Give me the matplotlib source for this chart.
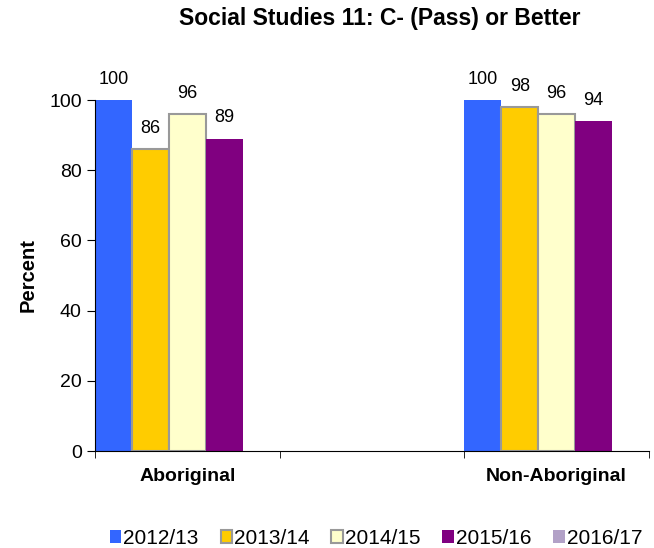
import matplotlib
matplotlib.use("Agg")
import matplotlib.pyplot as plt
import numpy as np

plt.rcParams['font.family'] = ['Liberation Sans', 'DejaVu Sans']

categories = ["Aboriginal", "Non-Aboriginal"]
years = ["2012/13", "2013/14", "2014/15", "2015/16", "2016/17"]
v_2012 = [100, 100]
v_2013 = [86, 98]
v_2014 = [96, 96]
v_2015 = [89, 94]
v_2016 = [np.nan, np.nan]

series = [v_2012, v_2013, v_2014, v_2015, v_2016]
colors = ["#3366FF", "#FFCC00", "#FFFFCC", "#800080", "#B2A1C7"]
edges = [None, "#999999", "#999999", None, None]

fig = plt.figure(figsize=(6.54, 5.48), dpi=100)
ax = fig.add_axes([0.1453, 0.177, 0.847, 0.6405])

# categories sit at 0 and 2, with an empty slot between them
xpos = np.array([0, 2])
width = 0.2
handles = []
for i, (vals, c, ec, lab) in enumerate(zip(series, colors, edges, years)):
    left = xpos - 0.5 + i * width
    kw = dict(edgecolor=ec, linewidth=1.5) if ec else dict(linewidth=0)
    bars = ax.bar(left, vals, width=width, align="edge", color=c, label=lab, **kw)
    handles.append(bars)
    for x, v in zip(left, vals):
        if not np.isnan(v):
            ax.annotate(f"{v:g}", (x + width / 2, v), xytext=(0, 9),
                        textcoords="offset points", ha="center", va="bottom",
                        fontsize=13)

ax.set_xlim(-0.5, 2.5)
ax.set_ylim(0, 100)
ax.set_yticks(range(0, 101, 20))
ax.tick_params(axis="y", labelsize=14, length=6, direction="out")
ax.set_xticks(xpos)
ax.set_xticklabels(categories, fontsize=14, fontweight="bold")
ax.tick_params(axis="x", length=0, pad=12)
ax.set_xticks([-0.5, 0.5, 1.5, 2.5], minor=True)
ax.tick_params(axis="x", which="minor", length=5, direction="out")
ax.spines["top"].set_visible(False)
ax.spines["right"].set_visible(False)
ax.set_ylabel("Percent", fontsize=14.5, fontweight="bold", labelpad=8)

fig.text(0.581, 0.967, "Social Studies 11: C- (Pass) or Better",
         ha="center", va="center", fontsize=16.5, fontweight="bold")

fig.legend(handles=handles, loc="center", bbox_to_anchor=(0.575, 0.018),
           ncol=5, frameon=False, fontsize=15, handlelength=0.55,
           handleheight=0.55, handletextpad=0.1, columnspacing=1.05)

fig.savefig("out.png", dpi=100)
